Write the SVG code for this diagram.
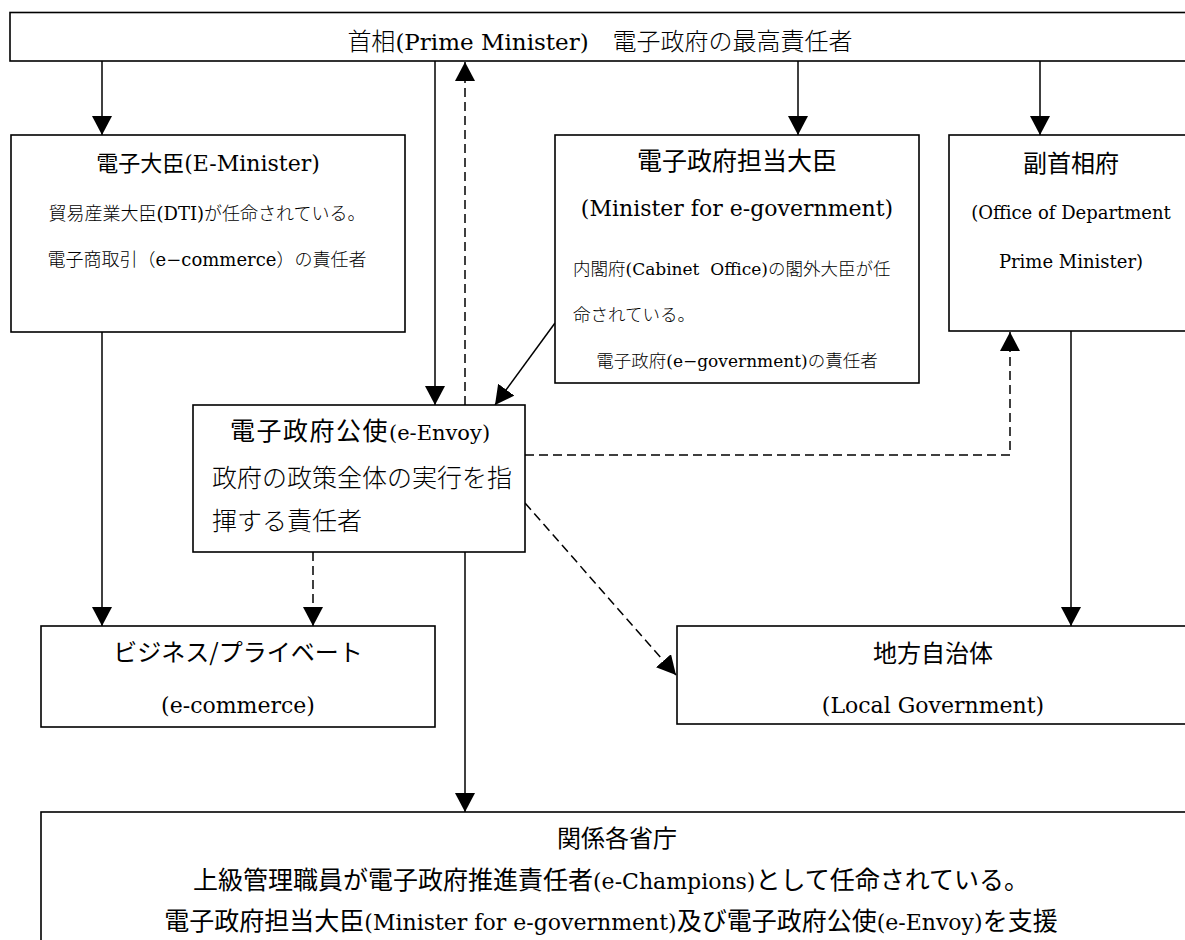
<svg xmlns="http://www.w3.org/2000/svg" width="1185" height="940" viewBox="0 0 1185 940">
<style>
  .box { fill: #fff; stroke: #000; stroke-width: 1.6; }
  .t { font-family: 'Noto Sans CJK JP', 'Noto Sans CJK SC', sans-serif; fill: #000; font-weight: 400; }
  .m { font-weight: 300; }
  .L { font-family: 'DejaVu Serif', 'Liberation Serif', serif; font-weight: 400; }
  .c { text-anchor: middle; }
  .ln { fill: none; stroke: #000; stroke-width: 1.5; }
  .dash { stroke-dasharray: 9 5; }
</style>
<defs>
  <marker id="ah" viewBox="0 0 19 20" markerUnits="userSpaceOnUse" markerWidth="19" markerHeight="20" refX="19" refY="10" orient="auto">
    <path d="M0,0 L19,10 L0,20 z" fill="#000"/>
  </marker>
</defs>

<g id="connectors">
  <line class="ln" x1="102" y1="61" x2="102" y2="135" marker-end="url(#ah)"/>
  <line class="ln" x1="435" y1="61" x2="435" y2="405" marker-end="url(#ah)"/>
  <line class="ln dash" x1="465" y1="405" x2="465" y2="62" marker-end="url(#ah)"/>
  <line class="ln" x1="798" y1="61" x2="798" y2="135" marker-end="url(#ah)"/>
  <line class="ln" x1="1040" y1="61" x2="1040" y2="135" marker-end="url(#ah)"/>
  <line class="ln" x1="555" y1="323" x2="495" y2="405" marker-end="url(#ah)"/>
  <path class="ln dash" d="M525,455 H1010 V332" marker-end="url(#ah)"/>
  <line class="ln dash" x1="525" y1="503" x2="676" y2="675" marker-end="url(#ah)"/>
  <line class="ln" x1="102" y1="332" x2="102" y2="626" marker-end="url(#ah)"/>
  <line class="ln dash" x1="313" y1="552" x2="313" y2="626" marker-end="url(#ah)"/>
  <line class="ln" x1="1071" y1="331" x2="1071" y2="626" marker-end="url(#ah)"/>
  <line class="ln" x1="465" y1="552" x2="465" y2="812" marker-end="url(#ah)"/>
</g>

<g id="prime-minister">
  <rect class="box" x="10" y="12.5" width="1185" height="48.5"/>
  <text class="t m c" x="600" y="50" font-size="24">首相<tspan class="L" font-size="23">(Prime Minister)</tspan>　電子政府の最高責任者</text>
</g>

<g id="e-minister">
  <rect class="box" x="11" y="135" width="394" height="197"/>
  <text class="t c" x="208" y="171" font-size="22">電子大臣<tspan class="L">(E-Minister)</tspan></text>
  <text class="t m c" x="207" y="220" font-size="18">貿易産業大臣<tspan class="L">(DTI)</tspan>が任命されている。</text>
  <text class="t m c" x="207" y="266" font-size="18">電子商取引（<tspan class="L">e−commerce</tspan>）の責任者</text>
</g>

<g id="minister-e-government">
  <rect class="box" x="555" y="135" width="364" height="248"/>
  <text class="t c" x="737" y="170" font-size="25">電子政府担当大臣</text>
  <text class="L c" x="737" y="216" font-size="22">(Minister for e-government)</text>
  <text class="t m" x="573" y="275" font-size="17.5" xml:space="preserve">内閣府<tspan class="L" font-size="17">(Cabinet  Office)</tspan>の閣外大臣が任</text>
  <text class="t m" x="573" y="321" font-size="17.5">命されている。</text>
  <text class="t m c" x="737" y="367" font-size="17.5">電子政府<tspan class="L" font-size="17">(e−government)</tspan>の責任者</text>
</g>

<g id="deputy-pm">
  <rect class="box" x="949" y="135" width="250" height="196"/>
  <text class="t c" x="1071" y="172" font-size="24">副首相府</text>
  <text class="L c" x="1071" y="219" font-size="18">(Office of Department</text>
  <text class="L c" x="1071" y="268" font-size="18">Prime Minister)</text>
</g>

<g id="e-envoy">
  <rect class="box" x="193" y="405" width="332" height="147"/>
  <text class="t c" x="360" y="440" font-size="25" letter-spacing="1.5">電子政府公使<tspan class="L" font-size="21" letter-spacing="0">(e-Envoy)</tspan></text>
  <text class="t m" x="212" y="487" font-size="25">政府の政策全体の実行を指</text>
  <text class="t m" x="212" y="530" font-size="25">揮する責任者</text>
</g>

<g id="business">
  <rect class="box" x="41" y="626" width="394" height="101"/>
  <text class="t c" x="238" y="661" font-size="24">ビジネス/プライベート</text>
  <text class="L c" x="238" y="713" font-size="22">(e-commerce)</text>
</g>

<g id="local-government">
  <rect class="box" x="677" y="626" width="520" height="98"/>
  <text class="t c" x="933" y="662" font-size="24">地方自治体</text>
  <text class="L c" x="933" y="713" font-size="22">(Local Government)</text>
</g>

<g id="ministries">
  <rect class="box" x="41" y="812" width="1160" height="140"/>
  <text class="t c" x="617" y="847" font-size="24">関係各省庁</text>
  <text class="t c" x="611" y="889" font-size="25">上級管理職員が電子政府推進責任者<tspan class="L" font-size="22">(e-Champions)</tspan>として任命されている。</text>
  <text class="t c" x="611" y="930" font-size="25">電子政府担当大臣<tspan class="L" font-size="22">(Minister for e-government)</tspan>及び電子政府公使<tspan class="L" font-size="22">(e-Envoy)</tspan>を支援</text>
</g>
</svg>
